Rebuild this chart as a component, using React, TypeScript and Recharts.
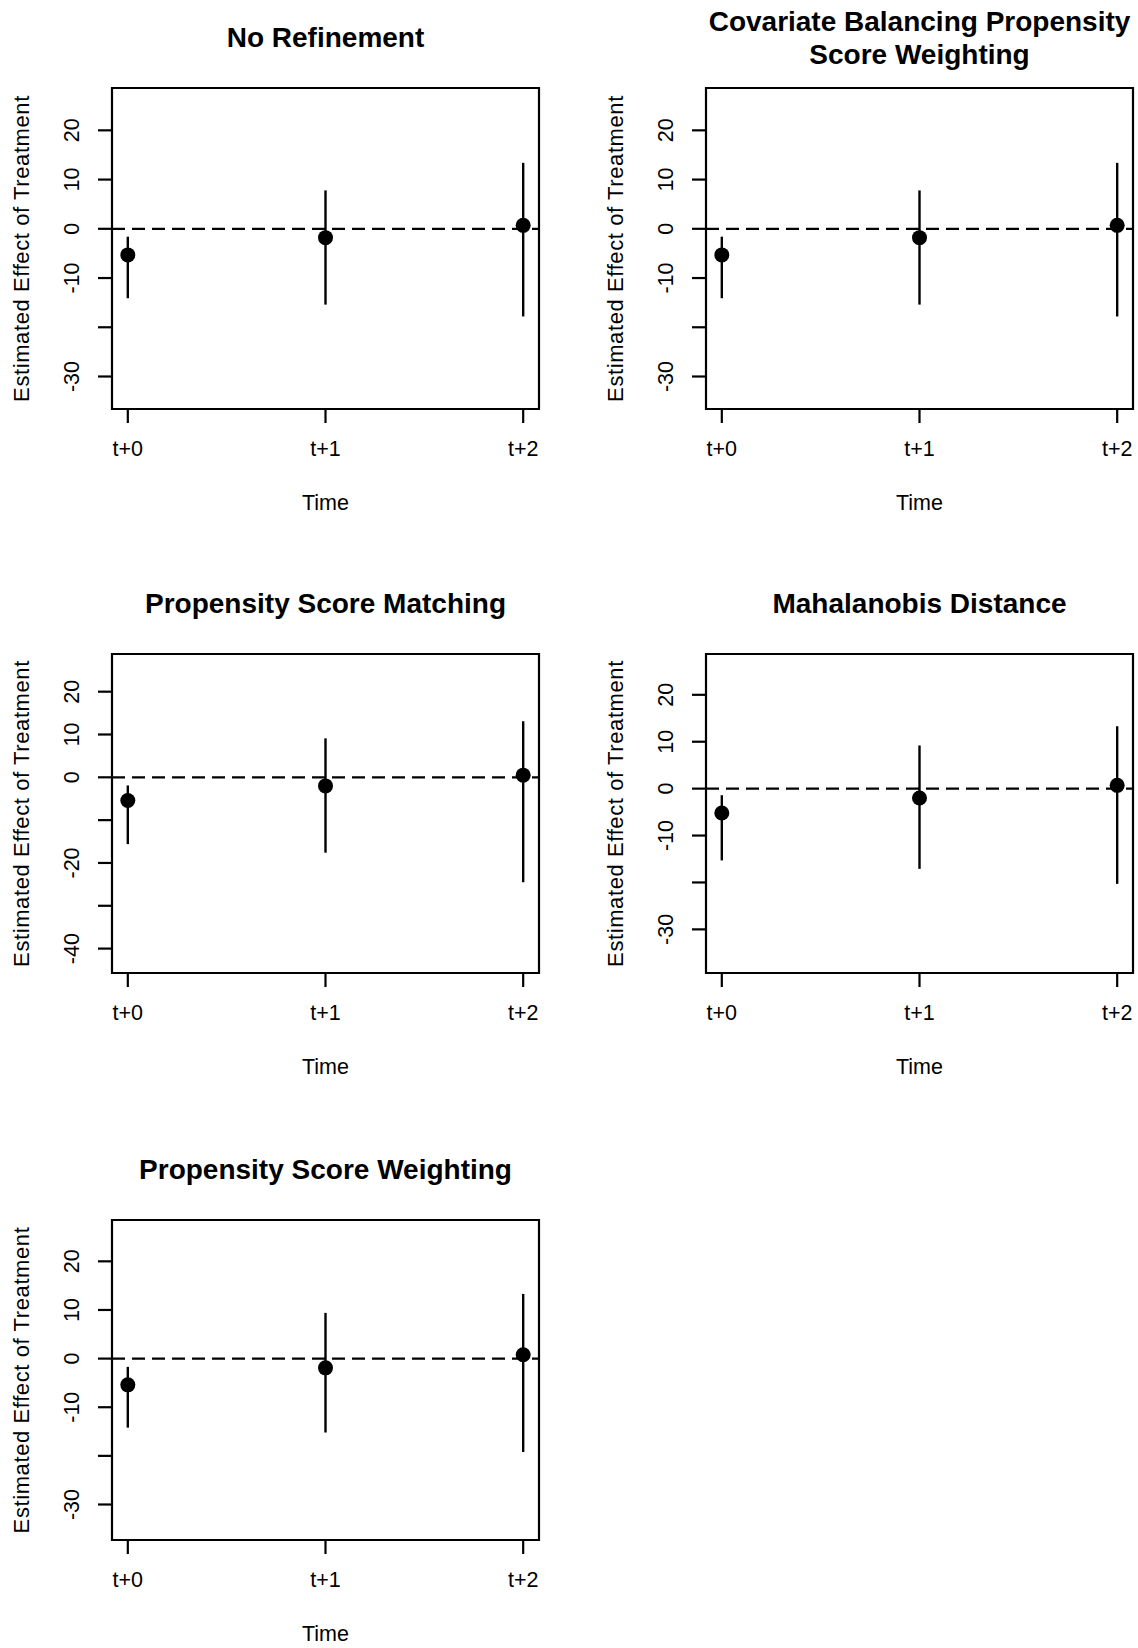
import React from 'react';
import {
  ScatterChart,
  Scatter,
  XAxis,
  YAxis,
  ErrorBar,
  ReferenceLine,
  ReferenceArea,
  Customized,
} from 'recharts';

// ---------- data ----------
const timeLabels = ['t+0', 't+1', 't+2'];
const timeIndex = [0, 1, 2];

const noRefEst = [-5.3, -1.8, 0.7];
const noRefLower = [-14.1, -15.4, -17.8];
const noRefUpper = [-1.6, 7.8, 13.4];

const cbpsEst = [-5.3, -1.8, 0.7];
const cbpsLower = [-14.1, -15.4, -17.8];
const cbpsUpper = [-1.6, 7.8, 13.4];

const psmEst = [-5.4, -2.0, 0.5];
const psmLower = [-15.6, -17.6, -24.5];
const psmUpper = [-1.9, 9.1, 13.1];

const mahaEst = [-5.2, -2.0, 0.7];
const mahaLower = [-15.3, -17.1, -20.3];
const mahaUpper = [-1.4, 9.2, 13.3];

const pswEst = [-5.4, -1.9, 0.8];
const pswLower = [-14.2, -15.2, -19.2];
const pswUpper = [-1.7, 9.4, 13.3];

const ticksA = [-30, -20, -10, 0, 10, 20];
const labeledA = [-30, -10, 0, 10, 20];
const ticksPsm = [-40, -30, -20, -10, 0, 10, 20];
const labeledPsm = [-40, -20, 0, 10, 20];

const xLabel = 'Time';
const yLabel = 'Estimated Effect of Treatment';

// ---------- layout ----------
const FONT = '"Liberation Sans", Arial, sans-serif';
const YW = 112;
const TOP = 88;
const BOX_W = 427;
const RIGHT = 4;
const XH = 105;
const X_DOMAIN: [number, number] = [-0.08, 2.08];

type PanelProps = {
  title: string[];
  est: number[];
  lower: number[];
  upper: number[];
  yDomain: [number, number];
  yTicks: number[];
  yLabeled: number[];
  left: number;
  top: number;
  boxH: number;
};

const Dot = (props: any) => {
  if (props.cx == null || props.cy == null) return null;
  return <circle cx={props.cx} cy={props.cy} r={7.5} fill="#000" />;
};

function Panel({ title, est, lower, upper, yDomain, yTicks, yLabeled, left, top, boxH }: PanelProps) {
  const data = timeIndex.map((x, i) => ({
    x,
    y: est[i],
    err: [est[i] - lower[i], upper[i] - est[i]],
  }));
  const W = YW + BOX_W + RIGHT;
  const H = TOP + boxH + XH;
  const boxBottom = TOP + boxH;
  const boxCx = YW + BOX_W / 2;

  const XTick = (p: any) => (
    <text
      x={p.x}
      y={boxBottom + 40}
      textAnchor="middle"
      dominantBaseline="central"
      fontFamily={FONT}
      fontSize={21.5}
      fill="#000"
    >
      {timeLabels[p.payload.value]}
    </text>
  );

  const YTick = (p: any) => {
    const v = p.payload.value;
    if (!yLabeled.includes(v)) return <g />;
    const cx = YW - 40;
    return (
      <text
        x={cx}
        y={p.y}
        transform={`rotate(-90, ${cx}, ${p.y})`}
        textAnchor="middle"
        dominantBaseline="central"
        fontFamily={FONT}
        fontSize={21.5}
        fill="#000"
      >
        {String(v)}
      </text>
    );
  };

  const Texts = () => {
    const titleYs = title.length === 1 ? [TOP - 51] : [TOP - 67, TOP - 34];
    const yc = TOP + boxH / 2;
    return (
      <g>
        {title.map((t, i) => (
          <text
            key={i}
            x={boxCx}
            y={titleYs[i]}
            textAnchor="middle"
            dominantBaseline="central"
            fontFamily={FONT}
            fontSize={28}
            fontWeight="bold"
            fill="#000"
          >
            {t}
          </text>
        ))}
        <text
          x={boxCx}
          y={boxBottom + 94}
          textAnchor="middle"
          dominantBaseline="central"
          fontFamily={FONT}
          fontSize={21.5}
          fill="#000"
        >
          {xLabel}
        </text>
        <text
          x={YW - 91}
          y={yc}
          transform={`rotate(-90, ${YW - 91}, ${yc})`}
          textAnchor="middle"
          dominantBaseline="central"
          fontFamily={FONT}
          fontSize={22}
          letterSpacing={0.6}
          fill="#000"
        >
          {yLabel}
        </text>
      </g>
    );
  };

  return (
    <div style={{ position: 'absolute', left, top, width: W, height: H }}>
      <ScatterChart width={W} height={H} margin={{ top: TOP, right: RIGHT, bottom: 0, left: 0 }}>
        <XAxis
          type="number"
          dataKey="x"
          domain={X_DOMAIN}
          ticks={timeIndex}
          interval={0}
          allowDataOverflow
          axisLine={false}
          tickSize={14}
          tickLine={{ stroke: '#000', strokeWidth: 2.2 }}
          height={XH}
          tick={XTick}
        />
        <YAxis
          type="number"
          dataKey="y"
          domain={yDomain}
          ticks={yTicks}
          interval={0}
          allowDataOverflow
          axisLine={false}
          tickSize={14}
          tickLine={{ stroke: '#000', strokeWidth: 2.2 }}
          width={YW}
          tick={YTick}
        />
        <ReferenceArea
          x1={X_DOMAIN[0]}
          x2={X_DOMAIN[1]}
          y1={yDomain[0]}
          y2={yDomain[1]}
          fill="none"
          fillOpacity={0}
          stroke="#000"
          strokeWidth={2.2}
          ifOverflow="visible"
        />
        <ReferenceLine y={0} stroke="#000" strokeWidth={2.2} strokeDasharray="13 7" />
        <Scatter data={data} dataKey="y" isAnimationActive={false} shape={Dot}>
          <ErrorBar dataKey="err" direction="y" width={0} stroke="#000" strokeWidth={2.4} isAnimationActive={false} />
        </Scatter>
        <Customized component={Texts} />
      </ScatterChart>
    </div>
  );
}

export default function App() {
  return (
    <div
      style={{
        position: 'absolute',
        left: 0,
        top: 0,
        width: 1138,
        height: 1648,
        overflow: 'hidden',
        background: '#fff',
      }}
    >
      <Panel
        title={['No Refinement']}
        est={noRefEst}
        lower={noRefLower}
        upper={noRefUpper}
        yDomain={[-36.6, 28.6]}
        yTicks={ticksA}
        yLabeled={labeledA}
        left={0}
        top={0}
        boxH={321}
      />
      <Panel
        title={['Covariate Balancing Propensity', 'Score Weighting']}
        est={cbpsEst}
        lower={cbpsLower}
        upper={cbpsUpper}
        yDomain={[-36.6, 28.6]}
        yTicks={ticksA}
        yLabeled={labeledA}
        left={594}
        top={0}
        boxH={321}
      />
      <Panel
        title={['Propensity Score Matching']}
        est={psmEst}
        lower={psmLower}
        upper={psmUpper}
        yDomain={[-45.7, 28.8]}
        yTicks={ticksPsm}
        yLabeled={labeledPsm}
        left={0}
        top={566}
        boxH={319}
      />
      <Panel
        title={['Mahalanobis Distance']}
        est={mahaEst}
        lower={mahaLower}
        upper={mahaUpper}
        yDomain={[-39.3, 28.7]}
        yTicks={ticksA}
        yLabeled={labeledA}
        left={594}
        top={566}
        boxH={319}
      />
      <Panel
        title={['Propensity Score Weighting']}
        est={pswEst}
        lower={pswLower}
        upper={pswUpper}
        yDomain={[-37.3, 28.5]}
        yTicks={ticksA}
        yLabeled={labeledA}
        left={0}
        top={1132}
        boxH={320}
      />
    </div>
  );
}
